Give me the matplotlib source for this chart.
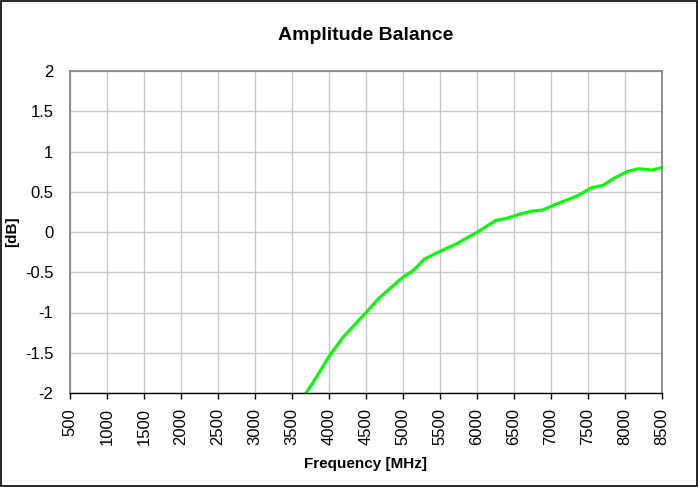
import matplotlib
matplotlib.use('Agg')
import matplotlib.pyplot as plt

plt.rcParams['font.family'] = ['Liberation Sans', 'DejaVu Sans']

# Data
freq_mhz = [3690, 3830, 4000, 4190, 4500, 4665, 4780, 5000, 5135, 5290,
            5500, 5715, 6020, 6250, 6410, 6570, 6730, 6890, 7070, 7250,
            7390, 7545, 7705, 7865, 8025, 8180, 8365, 8515]
balance_db = [-2.0, -1.80, -1.545, -1.305, -1.0, -0.83, -0.735, -0.56, -0.48, -0.335,
              -0.24, -0.15, 0.008, 0.143, 0.172, 0.221, 0.258, 0.275, 0.348, 0.41,
              0.467, 0.549, 0.582, 0.676, 0.75, 0.787, 0.77, 0.807]

x_ticks = list(range(500, 8501, 500))
y_ticks = [-2, -1.5, -1, -0.5, 0, 0.5, 1, 1.5, 2]

fig = plt.figure(figsize=(6.98, 4.87), dpi=100)
ax = fig.add_axes([70 / 698, 1 - 393 / 487, 592 / 698, 322 / 487])

ax.plot(freq_mhz, balance_db, color='#00ff00', linewidth=2.2, clip_on=True)

ax.set_xlim(500, 8500)
ax.set_ylim(-2, 2)
ax.set_xticks(x_ticks)
ax.set_xticklabels([str(t) for t in x_ticks], rotation=90, fontsize=12)
ax.set_yticks(y_ticks)
ax.set_yticklabels(['%g' % t for t in y_ticks], fontsize=12)
ax.tick_params(axis='x', length=4, width=1, color='black', direction='out', pad=7)
ax.tick_params(axis='y', length=0, pad=12)

ax.grid(True, color='#c8c8c8', linewidth=1)
ax.set_axisbelow(True)
for side in ['top', 'right', 'left']:
    ax.spines[side].set_color('#808080')
    ax.spines[side].set_linewidth(1.2)
ax.spines['bottom'].set_color('black')
ax.spines['bottom'].set_linewidth(1)

ax.set_title('Amplitude Balance', fontsize=14, fontweight='bold', pad=22)
ax.set_xlabel('Frequency [MHz]', fontsize=11, fontweight='bold', labelpad=8)
ax.set_ylabel('[dB]', fontsize=11, fontweight='bold', labelpad=4)

# outer chart frame
fig.patches.append(plt.Rectangle((0.001, 0.002), 0.997, 0.995, transform=fig.transFigure,
                                 fill=False, edgecolor='black', linewidth=1.2))

fig.savefig('out.png', dpi=100)
